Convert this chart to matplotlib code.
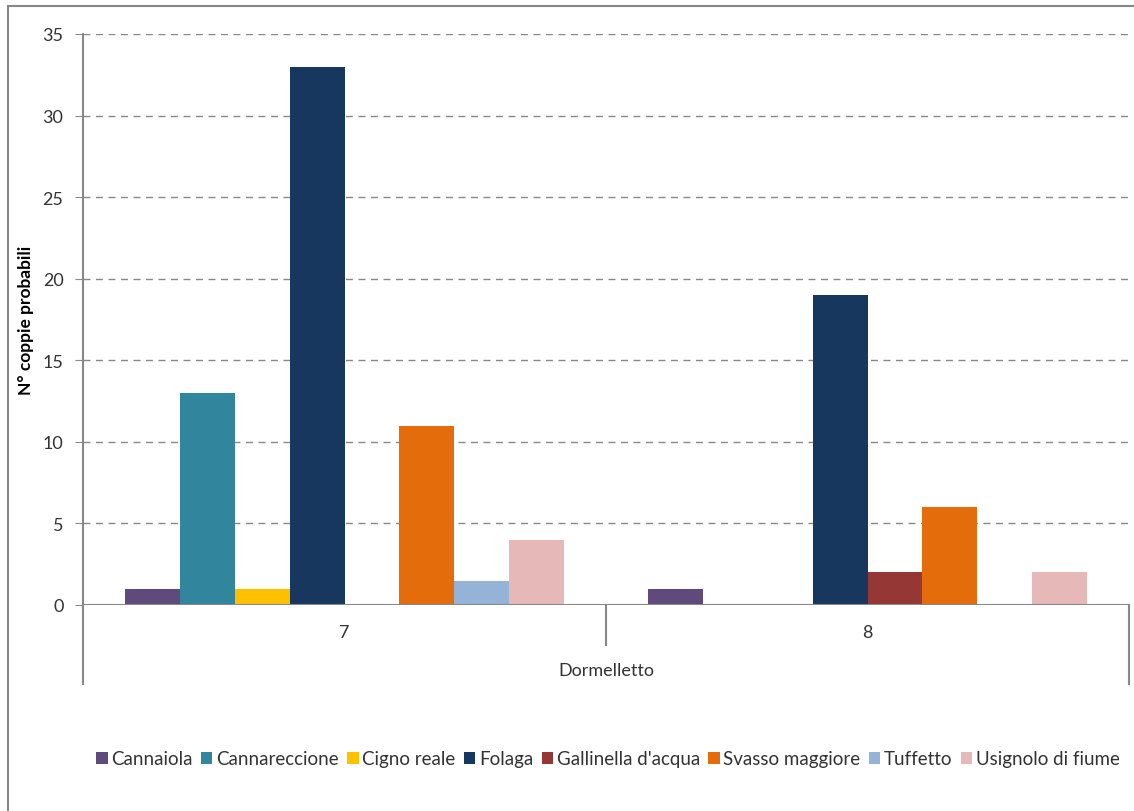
import matplotlib.pyplot as plt
import numpy as np
from matplotlib.patches import Rectangle

plt.rcParams['font.family'] = ['Lato', 'DejaVu Sans']

groups = ['7', '8']
region = 'Dormelletto'
species = ['Cannaiola', 'Cannareccione', 'Cigno reale', 'Folaga',
           "Gallinella d'acqua", 'Svasso maggiore', 'Tuffetto', 'Usignolo di fiume']
values = [
    [1, 1],      # Cannaiola
    [13, 0],     # Cannareccione
    [1, 0],      # Cigno reale
    [33, 19],    # Folaga
    [0, 2],      # Gallinella d'acqua
    [11, 6],     # Svasso maggiore
    [1.5, 0],    # Tuffetto
    [4, 2],      # Usignolo di fiume
]
colors = ['#604A7B', '#31859C', '#FFC000', '#17375E',
          '#953735', '#E46C0A', '#95B3D7', '#E6B9B8']

fig = plt.figure(figsize=(11.34, 8.12), dpi=100)
ax = fig.add_axes([83 / 1134, 1 - 606 / 812, (1129 - 83) / 1134, (606 - 35) / 812])

# outer chart border
fig.patches.append(Rectangle((8 / 1134, -0.05), 1.2, 1 - 7 / 812 + 0.05,
                             transform=fig.transFigure, fill=False,
                             edgecolor='#888888', linewidth=1.5))

n = len(species)
w = 0.105
x = np.arange(len(groups))
for i, (name, vals, c) in enumerate(zip(species, values, colors)):
    offs = (i - (n - 1) / 2) * w
    ax.bar(x + offs, vals, width=w, color=c, label=name)

ax.set_xlim(-0.5, len(groups) - 0.5)
ax.set_ylim(0, 35)
ax.set_yticks(range(0, 36, 5))
ax.tick_params(axis='y', length=6, color='#888888', labelsize=13, labelcolor='#333333', pad=8)
ax.grid(axis='y', linestyle=(0, (5, 4)), color='#888888', linewidth=1)
ax.set_axisbelow(True)
for s in ['top', 'right', 'bottom']:
    ax.spines[s].set_visible(False)
ax.spines['left'].set_color('#888888')
ax.spines['left'].set_linewidth(1.5)

# category axis (two levels)
ax.set_xticks([])
ax.axhline(0, color='#888888', linewidth=1.5)
gray = dict(color='#888888', linewidth=1.5, clip_on=False, transform=ax.transAxes)
drop = (685 - 606) / (606 - 35)
mid = (646 - 606) / (606 - 35)
ax.plot([0, 0], [0, -drop], **gray)
ax.plot([1, 1], [0, -drop], **gray)
ax.plot([0.5, 0.5], [0, -mid], **gray)
for xi, g in zip(x, groups):
    ax.text(xi, -1.65, g, ha='center', va='center', fontsize=13, color='#333333')
ax.text(0.5, -4.0, region, ha='center', va='center', fontsize=13, color='#333333')

ax.set_ylabel('N° coppie probabili', fontsize=12.5, fontweight='bold', labelpad=6)

fig.legend(loc='center', bbox_to_anchor=(608 / 1134, 1 - 760 / 812), ncol=n,
           frameon=False, fontsize=13.5, handlelength=0.6, handleheight=0.6,
           handletextpad=0.2, columnspacing=0.45, labelcolor='#333333')

fig.savefig('out.png', dpi=100)
